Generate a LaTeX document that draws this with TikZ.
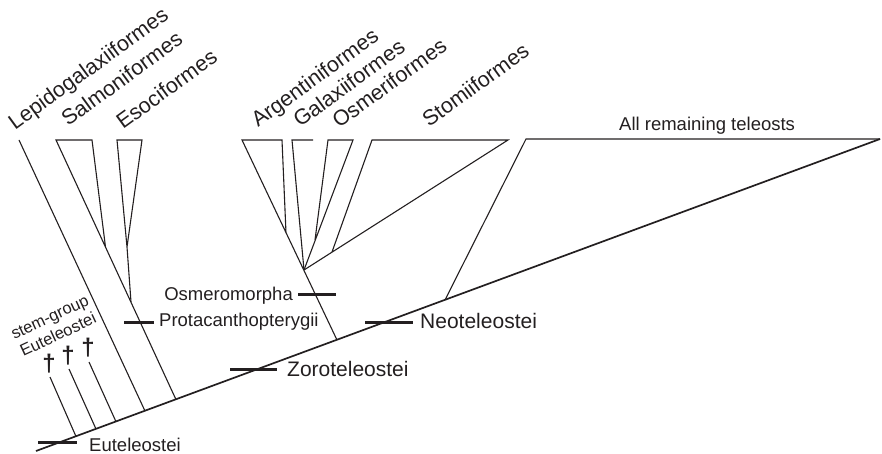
\documentclass[tikz,border=0pt]{standalone}
\usepackage{fontspec}
\setmainfont{Liberation Sans}
\usetikzlibrary{calc}
\definecolor{ink}{RGB}{35,31,32}
\tikzset{
  clade/.style   = {draw=ink,line width=1.1pt,line join=miter},
  spine/.style   = {draw=ink,line width=1.7pt},
  tick/.style    = {draw=ink,line width=3pt},
  taxon/.style   = {rotate=36,anchor=base west,inner sep=0pt,text=ink,
                    font=\fontsize{21.5}{25}\selectfont},
  grp/.style     = {anchor=base west,inner sep=0pt,text=ink,
                    font=\fontsize{18.5}{22}\selectfont},
  biggrp/.style  = {anchor=base west,inner sep=0pt,text=ink,
                    font=\fontsize{21}{25}\selectfont},
  fossil/.style  = {inner sep=0pt,text=ink,font=\fontsize{24}{28}\selectfont\bfseries},
}

\begin{document}
\begin{tikzpicture}[x=1pt,y=-1pt]
  \useasboundingbox (0,0) rectangle (882,454);

  % backbone and branch points
  \coordinate (root) at (36,451);
  \coordinate (tip)  at (880,139);
  \coordinate (f1) at (50,377);   \coordinate (f1b) at (76,436.5);
  \coordinate (f2) at (69,369);   \coordinate (f2b) at (96,429);
  \coordinate (f3) at (89,362);   \coordinate (f3b) at (116,421.7);
  \coordinate (lepTop) at (19,140);  \coordinate (lepBase) at (145,411);
  \coordinate (salTL) at (56,140);   \coordinate (salTR) at (92,140);
  \coordinate (salApex) at (105.5,247);
  \coordinate (esoTL) at (117,140);  \coordinate (esoTR) at (142,140);
  \coordinate (esoApex) at (127,247);
  \coordinate (protJ) at (131,302);  \coordinate (protBase) at (176,399.6);
  \coordinate (argTL) at (242,140);  \coordinate (argTR) at (282,140);
  \coordinate (argApex) at (286,233);
  \coordinate (galTL) at (292,140);  \coordinate (galTR) at (313,140);
  \coordinate (osmeTL) at (328,140); \coordinate (osmeTR) at (353,140);
  \coordinate (osmeApex) at (315,240);
  \coordinate (stoTL) at (372,140);  \coordinate (stoTR) at (508,140);
  \coordinate (stoApex) at (332,252);
  \coordinate (osmJ) at (304,270);   \coordinate (osmBase) at (337,340);
  \coordinate (neoBase) at (445,300); \coordinate (restTL) at (526,139);

  % tree
  \draw[spine] (root) -- (tip);
  \draw[clade] (f1) -- (f1b);
  \draw[clade] (f2) -- (f2b);
  \draw[clade] (f3) -- (f3b);
  \draw[clade] (lepTop) -- (lepBase);
  \draw[clade] (salApex) -- (salTR) -- (salTL) -- (protBase);
  \draw[clade] (protJ) -- (esoApex) -- (esoTL) -- (esoTR) -- (esoApex);
  \draw[clade] (argApex) -- (argTR) -- (argTL) -- (osmBase);
  \draw[clade] (galTR) -- (galTL) -- (osmJ);
  \draw[clade] (osmeApex) -- (osmeTL) -- (osmeTR) -- (osmJ);
  \draw[clade] (stoApex) -- (stoTL) -- (stoTR) -- (osmJ);
  \draw[clade] (neoBase) -- (restTL) -- (tip);

  % group marks
  \coordinate (eutL) at (38,442);  \coordinate (eutR) at (77,442);
  \coordinate (zorL) at (230,369); \coordinate (zorR) at (277,369);
  \coordinate (neoL) at (365,322); \coordinate (neoR) at (413,322);
  \coordinate (osmL) at (298,294); \coordinate (osmR) at (336,294);
  \coordinate (proL) at (124,322); \coordinate (proR) at (154,322);
  \draw[tick] (eutL) -- (eutR);
  \draw[tick] (zorL) -- (zorR);
  \draw[tick] (neoL) -- (neoR);
  \draw[tick] (osmL) -- (osmR);
  \draw[tick] (proL) -- (proR);

  % taxon names
  \node[taxon] (lep)  at (15,131)  {Lepidogalaxiiformes};
  \node[taxon] (sal)  at (68,127)  {Salmoniformes};
  \node[taxon] (eso)  at (123,130) {Esociformes};
  \node[taxon] (arg)  at (258,128) {Argentiniformes};
  \node[taxon] (gal)  at (300,128) {Galaxiiformes};
  \node[taxon] (osme) at (339,129) {Osmeriformes};
  \node[taxon] (sto)  at (429,128) {Stomiiformes};
  \node[grp] (rest) at (619,131) {All remaining teleosts};

  % group names
  \node[grp] (pro) at (159,326) {Protacanthopterygii};
  \node[grp,anchor=base east] (osm) at (293,300) {Osmeromorpha};
  \node[biggrp] (neo) at (420,328) {Neoteleostei};
  \node[biggrp] (zor) at (287,376) {Zoroteleostei};
  \node[grp] (eut) at (89,451) {Euteleostei};
  \node[align=center,rotate=25,inner sep=0pt,text=ink,
        font=\fontsize{16.5}{19.5}\selectfont] (stem) at (54,326)
    {stem-group\\Euteleostei};
  \node[fossil] (d1) at (49,364) {†};
  \node[fossil] (d2) at (68,356) {†};
  \node[fossil] (d3) at (88,348) {†};
\end{tikzpicture}
\end{document}
